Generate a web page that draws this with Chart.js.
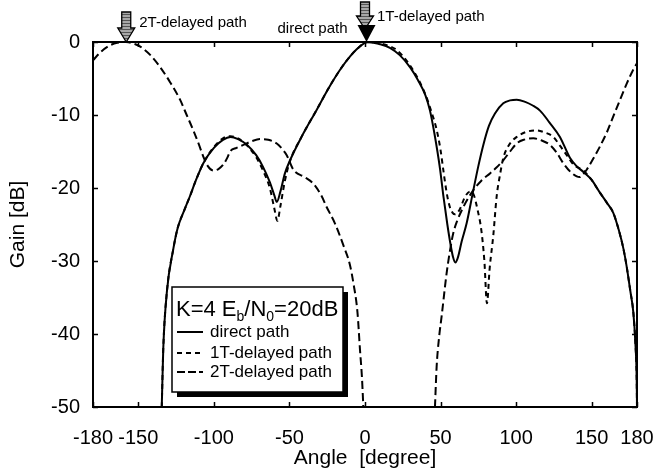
<!DOCTYPE html>
<html>
<head>
<meta charset="utf-8">
<script src="https://cdn.jsdelivr.net/npm/chart.js@4/dist/chart.umd.min.js"></script>
<style>
  html, body { margin: 0; padding: 0; background: #fff; }
  #wrap { width: 654px; height: 473px; }
</style>
</head>
<body>
<div id="wrap"><canvas id="gainChart" width="654" height="473"></canvas></div>
<script>
// tick labels
const xTicks = [-180, -150, -100, -50, 0, 50, 100, 150, 180];
const yTicks = [-50, -40, -30, -20, -10, 0];

// direct path (solid)
const directAngle = [-134.5, -133.5, -131, -127, -124, -119.5, -116, -112, -107, -100, -94, -89, -84, -78, -72, -67.5, -63, -60, -58.4, -56, -53, -49.6, -42, -32, -24, -16.5, -10, -5.5, 0, 1, 5, 10, 16.5, 23, 30, 35, 40, 43, 46, 49.6, 52, 54.5, 56.5, 58.3, 59.8, 61.5, 64, 67.3, 71.5, 75, 78.3, 82, 86, 91.5, 96, 100.4, 106, 111, 115.8, 122, 129, 135.7, 140, 144.5, 150, 155, 160, 164.3, 168, 171, 173.2, 175.5, 177.6, 179, 179.8, 180];
const directGain = [-50, -42, -34, -28.5, -25.5, -23, -21.2, -19, -16.6, -14.5, -13.4, -13.0, -13.3, -14.1, -15.5, -17.1, -19.2, -21, -21.9, -20.5, -18, -16.2, -13, -9.3, -6.3, -3.8, -2, -1.0, -0.1, 0, -0.1, -0.3, -0.8, -1.8, -3.5, -5.2, -7.3, -9.4, -12.6, -17.3, -21.3, -25, -27.6, -29.5, -30.2, -29.5, -27.3, -24.8, -20.5, -17, -14.1, -11.5, -9.8, -8.4, -8.0, -7.9, -8.2, -8.7, -9.4, -11, -13, -15.9, -17, -17.8, -18.9, -20.5, -22, -23.4, -25.8, -28.3, -30.8, -34, -37.1, -41.5, -46.3, -50];

// 1T-delayed path (short dash)
const t1Angle = [-134.5, -133.5, -131, -127, -124, -119.5, -116, -112, -107, -100, -94, -89, -84, -78, -72, -67.5, -63, -60, -58, -56, -53, -49.6, -42, -32, -24, -16.5, -10, -5.5, 0, 3, 8, 14, 21, 28, 34.2, 40, 44, 47.4, 50, 52, 54, 56, 58, 59.6, 62.5, 66.2, 69.5, 71.7, 74.5, 77, 79, 80.7, 82.5, 84.9, 87.1, 89.5, 91.5, 95, 100.4, 107, 113.6, 119, 124.6, 129, 133.5, 138, 144.5, 150, 155, 160, 164.3, 168, 171, 173.2, 175.5, 177.6, 179, 179.8, 180];
const t1Gain = [-50, -42, -34, -28.5, -25.5, -23, -21.2, -19, -16.6, -14.4, -13.2, -12.9, -13.2, -14.2, -15.8, -17.6, -20, -22.8, -24.5, -22.5, -19, -16.3, -13, -9.3, -6.3, -3.8, -2, -1.0, -0.1, 0, -0.1, -0.4, -1.1, -2.7, -4.7, -7.2, -9.6, -12, -14.8, -17.8, -20.6, -22.5, -23.4, -23.6, -23, -21.2, -20.5, -20.8, -23, -25.8, -30, -35.8, -31, -26.5, -21.2, -18, -15.9, -14.2, -13, -12.3, -12.1, -12.4, -13, -14.2, -15.5, -16.8, -17.6, -18.9, -20.5, -22, -23.4, -25.8, -28.3, -30.8, -34, -37.1, -41.5, -46.3, -50];

// 2T-delayed path (long dash)
const t2Angle = [-180, -175, -170, -164, -158, -152, -149, -142, -135.7, -129, -122.4, -118, -113.6, -110, -107, -104, -100.4, -97, -93.8, -91, -89.3, -85, -80.5, -75, -69.5, -64, -58.4, -55, -51.8, -47.4, -40, -34.2, -29, -25.4, -20, -14.4, -10, -7.7, -5, -3.3, -2, -1.1, null, 46.3, 47.4, 49, 50.7, 54, 56.3, 58.4, 61, 65.1, 71.7, 77, 82.7, 87, 91.5, 96, 100.4, 105, 111.4, 117, 122.4, 127, 131.2, 136, 140.1, 142, 144, 146.7, 151, 155.5, 160, 164.3, 169, 173.2, 177, 180];
const t2Gain = [-2.5, -1.4, -0.6, -0.1, 0, -0.3, -0.6, -1.8, -3.4, -5.5, -7.9, -10, -12.1, -14, -15.7, -17, -17.6, -17.4, -16.8, -15.8, -15, -14.5, -14.1, -13.6, -13.3, -13.4, -13.9, -14.6, -15.5, -17.5, -18.5, -19.4, -21, -22.6, -24.8, -27.8, -30.5, -33, -37, -42.2, -46, -50, null, -50, -44.5, -40.5, -37.6, -31.7, -28.5, -26.2, -24.5, -22.6, -20.3, -19, -18, -17.2, -16.2, -15, -13.9, -13.4, -13.2, -13.5, -14.1, -15.2, -16.6, -17.8, -18.4, -18.5, -18.2, -17.5, -16, -14.3, -12.4, -10.2, -7.8, -5.7, -4, -2.9];

// peak markers at the top
const peak2T = -158;
const peakDirect = 1;
const peak1T = 0;

const FONT = "'Liberation Sans', Arial, Helvetica, sans-serif";

function toPoints(xs, ys) {
  return xs.map((x, i) => (x === null ? { x: NaN, y: NaN } : { x: x, y: ys[i] }));
}

function arrowPath(ctx, x, top, shaftEnd, bottom, shaftW, headW) {
  ctx.beginPath();
  ctx.moveTo(x - shaftW / 2, top);
  ctx.lineTo(x + shaftW / 2, top);
  ctx.lineTo(x + shaftW / 2, shaftEnd);
  ctx.lineTo(x + headW / 2, shaftEnd);
  ctx.lineTo(x, bottom);
  ctx.lineTo(x - headW / 2, shaftEnd);
  ctx.lineTo(x - shaftW / 2, shaftEnd);
  ctx.closePath();
}

function hatchArrow(ctx, x, top, shaftEnd, bottom, shaftW, headW) {
  ctx.save();
  arrowPath(ctx, x, top, shaftEnd, bottom, shaftW, headW);
  ctx.fillStyle = "#a8a8a8";
  ctx.fill();
  ctx.clip();
  ctx.strokeStyle = "#555";
  ctx.lineWidth = 1;
  for (let y = top + 2; y < bottom; y += 3) {
    ctx.beginPath();
    ctx.moveTo(x - headW, y + 0.5);
    ctx.lineTo(x + headW, y + 0.5);
    ctx.stroke();
  }
  ctx.restore();
  ctx.save();
  arrowPath(ctx, x, top, shaftEnd, bottom, shaftW, headW);
  ctx.strokeStyle = "#000";
  ctx.lineWidth = 1.3;
  ctx.stroke();
  ctx.restore();
}

const decorPlugin = {
  id: "decor",
  afterDatasetsDraw(chart) {
    const ctx = chart.ctx;
    const a = chart.chartArea;
    const xs = chart.scales.x, ys = chart.scales.y;

    // frame
    ctx.save();
    ctx.strokeStyle = "#000";
    ctx.lineWidth = 2;
    ctx.strokeRect(a.left, a.top, a.right - a.left, a.bottom - a.top);

    // inward ticks
    ctx.lineWidth = 1.5;
    xTicks.forEach(v => {
      const px = Math.round(xs.getPixelForValue(v)) + 0.5;
      ctx.beginPath();
      ctx.moveTo(px, a.bottom); ctx.lineTo(px, a.bottom - 5);
      ctx.moveTo(px, a.top); ctx.lineTo(px, a.top + 5);
      ctx.stroke();
    });
    yTicks.forEach(v => {
      const py = Math.round(ys.getPixelForValue(v)) + 0.5;
      ctx.beginPath();
      ctx.moveTo(a.left, py); ctx.lineTo(a.left + 5, py);
      ctx.moveTo(a.right, py); ctx.lineTo(a.right - 5, py);
      ctx.stroke();
    });
    ctx.restore();

    // legend box with shadow
    const lx = 172, ly = 287, lw = 171, lh = 105;
    ctx.save();
    ctx.fillStyle = "#000";
    ctx.fillRect(lx + 5, ly + 5, lw, lh);
    ctx.fillStyle = "#fff";
    ctx.fillRect(lx, ly, lw, lh);
    ctx.strokeStyle = "#000";
    ctx.lineWidth = 1.5;
    ctx.strokeRect(lx, ly, lw, lh);

    // legend title with subscripts
    ctx.fillStyle = "#000";
    ctx.textBaseline = "alphabetic";
    ctx.textAlign = "left";
    const big = "22px " + FONT, small = "14px " + FONT;
    const base = 316;
    let tx = lx + 4;
    const parts = [["K=4 E", big, 0], ["b", small, 5], ["/N", big, 0], ["0", small, 5], ["=20dB", big, 0]];
    parts.forEach(p => {
      ctx.font = p[1];
      ctx.fillText(p[0], tx, base + p[2]);
      tx += ctx.measureText(p[0]).width;
    });

    // legend entries
    const entries = [
      ["direct path", [], 332],
      ["1T-delayed path", [5, 4], 353],
      ["2T-delayed path", [8, 3], 372]
    ];
    ctx.font = "17px " + FONT;
    ctx.textBaseline = "middle";
    entries.forEach(e => {
      ctx.beginPath();
      ctx.setLineDash(e[1]);
      ctx.lineWidth = 2;
      ctx.moveTo(lx + 5, e[2]);
      ctx.lineTo(lx + 31, e[2]);
      ctx.stroke();
      ctx.setLineDash([]);
      ctx.fillText(e[0], lx + 38, e[2]);
    });
    ctx.restore();

    // peak markers and labels
    const x2 = xs.getPixelForValue(peak2T);
    const xd = xs.getPixelForValue(peakDirect);
    const x1 = xs.getPixelForValue(peak1T);
    hatchArrow(ctx, x2, 12, 28, a.top, 9, 17);
    hatchArrow(ctx, x1, 2, 16, 29, 9, 17);
    ctx.save();
    ctx.fillStyle = "#000";
    ctx.beginPath();
    ctx.moveTo(xd - 9, 25);
    ctx.lineTo(xd + 9, 25);
    ctx.lineTo(xd, a.top);
    ctx.closePath();
    ctx.fill();

    ctx.font = "15px " + FONT;
    ctx.textBaseline = "middle";
    ctx.textAlign = "left";
    ctx.fillText("2T-delayed path", x2 + 13, 23);
    ctx.fillText("1T-delayed path", x1 + 12, 17);
    ctx.textAlign = "right";
    ctx.fillText("direct path", xd - 19, 29);
    ctx.restore();
  }
};

new Chart(document.getElementById("gainChart"), {
  type: "scatter",
  data: {
    datasets: [
      {
        label: "direct path",
        data: toPoints(directAngle, directGain),
        showLine: true,
        borderColor: "#000",
        borderWidth: 2,
        pointRadius: 0,
        cubicInterpolationMode: "monotone",
        spanGaps: false
      },
      {
        label: "1T-delayed path",
        data: toPoints(t1Angle, t1Gain),
        showLine: true,
        borderColor: "#000",
        borderWidth: 2,
        borderDash: [5, 4],
        pointRadius: 0,
        cubicInterpolationMode: "monotone",
        spanGaps: false
      },
      {
        label: "2T-delayed path",
        data: toPoints(t2Angle, t2Gain),
        showLine: true,
        borderColor: "#000",
        borderWidth: 2,
        borderDash: [8, 4],
        pointRadius: 0,
        cubicInterpolationMode: "monotone",
        spanGaps: false
      }
    ]
  },
  options: {
    responsive: false,
    animation: false,
    devicePixelRatio: 1,
    layout: { padding: { top: 42, right: 17, left: 0, bottom: 0 } },
    plugins: {
      legend: { display: false },
      tooltip: { enabled: false }
    },
    scales: {
      x: {
        type: "linear",
        min: -180,
        max: 180,
        grid: { display: false },
        border: { display: false },
        afterBuildTicks: s => { s.ticks = xTicks.map(v => ({ value: v })); },
        afterFit: s => { s.height = 66; s.paddingLeft = 0; s.paddingRight = 0; },
        ticks: {
          autoSkip: false,
          maxRotation: 0,
          padding: 11,
          color: "#000",
          font: { family: FONT, size: 20 },
          callback: v => String(v)
        },
        title: {
          display: true,
          text: "Angle  [degree]",
          color: "#000",
          font: { family: FONT, size: 21 },
          padding: { top: 0, bottom: 2 }
        }
      },
      y: {
        min: -50,
        max: 0,
        grid: { display: false },
        border: { display: false },
        afterBuildTicks: s => { s.ticks = yTicks.map(v => ({ value: v })); },
        afterFit: s => { s.width = 93; s.paddingTop = 0; s.paddingBottom = 0; },
        ticks: {
          autoSkip: false,
          padding: 5,
          color: "#000",
          font: { family: FONT, size: 20 },
          callback: v => String(v)
        },
        title: {
          display: true,
          text: "Gain [dB]",
          color: "#000",
          font: { family: FONT, size: 21 },
          padding: { top: 6, bottom: 0 }
        }
      }
    }
  },
  plugins: [decorPlugin]
});
</script>
</body>
</html>
